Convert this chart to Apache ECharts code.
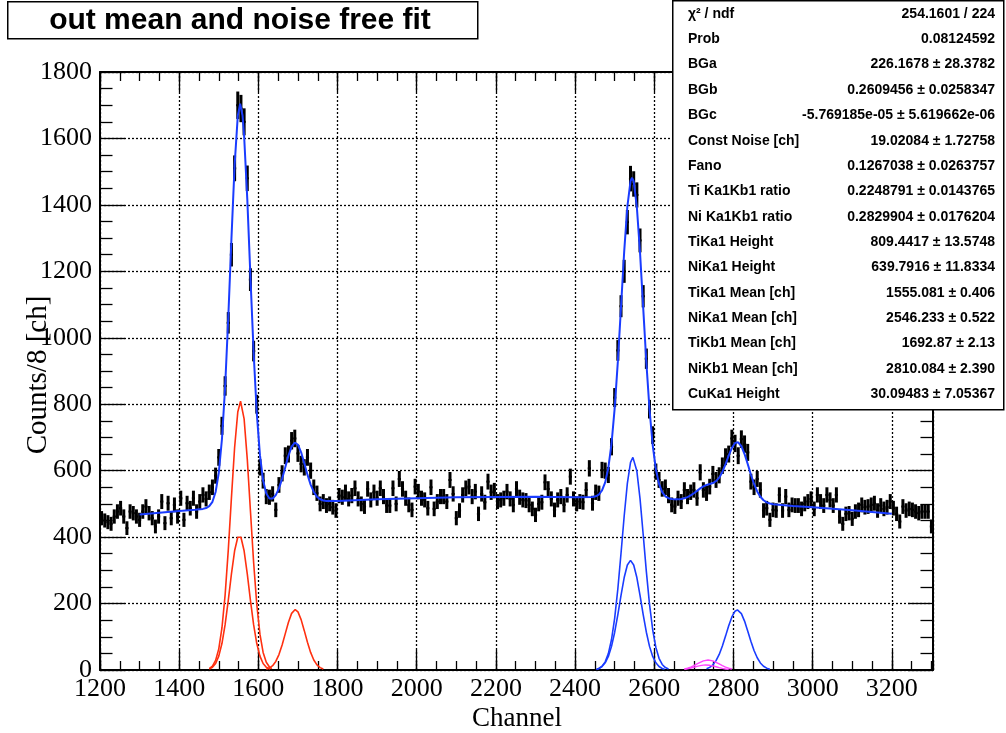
<!DOCTYPE html>
<html><head><meta charset="utf-8">
<script src="https://cdn.jsdelivr.net/npm/echarts@6/dist/echarts.min.js"></script>
<style>html,body{margin:0;padding:0;background:#fff}#c{width:1006px;height:733px}</style>
</head><body><div id="c"></div>
<script>
// ---- histogram (8-channel bins starting at 1200) ----
const binLow = 1200;
const binWidth = 8;
const counts = [
457,450,445,440,462,477,487,462,427,477,472,462,452,477,492,472,457,432,462,507,
442,502,457,497,462,517,452,502,487,517,477,507,527,515,535,550,585,640,735,855,
1045,1250,1510,1700,1690,1650,1480,1175,960,800,610,570,522,520,530,482,557,592,645,650,
690,697,652,620,610,640,600,550,532,500,507,495,500,490,480,525,520,535,515,525,
547,515,500,492,545,512,535,517,547,522,495,495,547,500,575,545,517,497,482,552,
537,517,512,487,550,485,507,522,522,507,572,530,457,480,527,547,552,522,537,470,
530,505,567,535,540,507,512,517,537,515,497,545,520,512,510,497,485,467,500,505,
565,545,515,482,512,522,497,527,582,515,500,507,505,542,607,502,535,532,602,600,
587,672,820,962,1095,1200,1348,1479,1463,1430,1293,1125,937,785,707,597,572,545,550,525,
497,492,517,507,542,522,535,542,517,595,542,532,552,590,572,586,615,642,650,697,
682,645,695,680,655,567,550,575,542,480,487,452,482,480,527,480,522,482,497,495,
495,485,500,507,515,485,527,507,495,527,512,495,527,462,440,470,472,455,477,482,
497,490,492,497,502,480,495,485,490,507,487,470,447,492,480,485,482,477,472,477,
477,477,432
];

// ---- total fit (blue) ----
const fitTotal = [[1300,467.9],[1350,473.3],[1400,478.4],[1440,482.3],[1460,484.9],[1468,487.4],[1476,493.1],[1484,506.3],[1492,535.7],[1500,593.3],[1508,694.5],[1516,851.1],[1524,1060.8],[1532,1298.5],[1540,1519.2],[1548,1667.9],[1554,1704.4],[1560,1668.9],[1564,1608],[1572,1418],[1580,1182.6],[1588,956.3],[1596,773],[1604,646.6],[1612,570.3],[1620,531.5],[1628,516.4],[1636,516.1],[1644,526.3],[1652,546.6],[1660,575.5],[1668,610.5],[1676,645.5],[1684,672.5],[1692,684.6],[1700,678],[1708,655.2],[1716,622.6],[1724,588],[1732,558.1],[1740,535.9],[1748,521.8],[1756,513.9],[1764,510.2],[1772,508.8],[1800,509],[1900,513.7],[2000,517.3],[2100,519.8],[2200,521],[2300,521.2],[2400,520.2],[2444,520.6],[2452,522.9],[2460,528.2],[2468,540.4],[2476,564.7],[2484,608.8],[2492,681.1],[2500,788],[2508,928.8],[2516,1093.5],[2524,1259.3],[2532,1395.1],[2540,1471.8],[2544,1481.5],[2548,1471.1],[2556,1393.3],[2564,1257],[2572,1090.7],[2580,925.4],[2588,784.1],[2596,676.9],[2604,604.3],[2612,560],[2620,535.2],[2628,522.8],[2636,517.1],[2644,514.5],[2652,513.6],[2660,513.6],[2668,514.8],[2676,516.8],[2684,520.3],[2692,525.4],[2700,531.9],[2708,539.2],[2716,546.6],[2724,552.5],[2732,556.9],[2740,559.7],[2748,562.8],[2756,568.3],[2764,578.9],[2772,596.3],[2780,619.5],[2788,645.2],[2796,668.3],[2804,683.2],[2812,685.3],[2820,673.5],[2828,650],[2836,619.9],[2844,588.4],[2852,560],[2860,537.5],[2868,521.4],[2876,510.9],[2884,504.6],[2892,501.1],[2900,498.8],[2950,493.9],[3000,489.8],[3100,480.7],[3200,470.5]];

// ---- Ti components (red) ----
const tiKa1 = [[1476,4.3],[1484,11.7],[1492,28.9],[1500,63.7],[1508,126.5],[1516,225.5],[1524,360.9],[1532,518.8],[1540,669.7],[1548,776.4],[1555,809],[1564,755.8],[1572,634.6],[1580,478.6],[1588,324.2],[1596,197.2],[1604,107.8],[1612,52.8],[1620,23.3],[1628,9.2],[1634,4.2]];
const tiKa2 = [[1476,3.2],[1484,8.3],[1492,19.7],[1500,41.8],[1508,79.7],[1516,136.4],[1524,209.7],[1532,289.4],[1540,358.8],[1548,399.6],[1552,405],[1556,399.6],[1564,358.8],[1572,289.4],[1580,209.7],[1588,136.4],[1596,79.7],[1604,41.8],[1612,19.7],[1620,8.3],[1630,2.6]];
const tiKb1 = [[1620,2.4],[1628,5.9],[1636,13.0],[1644,25.8],[1652,46.4],[1660,75.1],[1668,109.5],[1676,143.9],[1684,170.4],[1693,182],[1700,174.9],[1708,151.6],[1716,118.4],[1724,83.3],[1732,52.9],[1740,30.2],[1748,15.6],[1756,7.2],[1764,3.0]];

// ---- Ni components (blue) ----
const niKa1 = [[2454,1.6],[2460,4.6],[2468,11.1],[2476,24.5],[2484,49.5],[2492,91.8],[2500,156.4],[2508,244.6],[2516,351.4],[2524,463.6],[2532,561.7],[2540,624.8],[2546,640],[2556,598.8],[2564,515.8],[2572,408],[2580,296.3],[2588,197.7],[2596,121.1],[2604,68.1],[2612,35.2],[2620,16.7],[2628,7.3],[2636,2.9]];
const niKa2 = [[2454,1.6],[2460,4.6],[2468,10.5],[2476,21.6],[2484,40.9],[2492,71.1],[2500,113.7],[2508,166.8],[2516,224.9],[2524,278.3],[2532,316.2],[2540,330],[2548,316.2],[2556,278.3],[2564,224.9],[2572,166.8],[2580,113.7],[2588,71.1],[2596,40.9],[2604,21.6],[2612,10.5],[2620,4.6],[2626,2.4]];
const niKb1 = [[2732,3.7],[2740,7.9],[2748,15.6],[2756,28.2],[2764,46.9],[2772,72.1],[2780,102],[2788,132.9],[2796,159.7],[2804,176.9],[2810,181],[2820,169.8],[2828,147.2],[2836,117.6],[2844,86.6],[2852,58.8],[2860,36.8],[2868,21.2],[2876,11.3],[2884,5.5],[2892,2.5]];

// ---- Cu components (magenta) ----
const cuKa1 = [[2676,3.0],[2684,5.4],[2692,8.7],[2700,13.1],[2708,18.2],[2716,23.2],[2724,27.4],[2736,30],[2748,27.4],[2756,23.2],[2764,18.2],[2772,13.1],[2780,8.7],[2788,5.4],[2796,3.0]];
const cuKa2 = [[2676,2.3],[2684,3.9],[2692,6.0],[2700,8.4],[2708,11.0],[2716,13.2],[2724,14.7],[2730,15],[2740,14.1],[2748,12.2],[2756,9.7],[2764,7.2],[2772,4.9],[2780,3.0],[2788,1.8]];

// ---- texts ----
const titleText = 'out mean and noise free fit';
const xTitle = 'Channel';
const yTitle = 'Counts/8 [ch]';
const statLabels = ['\u03c7\u00b2 / ndf','Prob','BGa','BGb','BGc','Const Noise [ch]','Fano','Ti Ka1Kb1 ratio','Ni Ka1Kb1 ratio','TiKa1 Height','NiKa1 Height','TiKa1 Mean [ch]','NiKa1 Mean [ch]','TiKb1 Mean [ch]','NiKb1 Mean [ch]','CuKa1 Height'];
const statValues = ['254.1601 / 224','0.08124592','226.1678 \u00b1 28.3782','0.2609456 \u00b1 0.0258347','-5.769185e-05 \u00b1 5.619662e-06','19.02084 \u00b1 1.72758','0.1267038 \u00b1 0.0263757','0.2248791 \u00b1 0.0143765','0.2829904 \u00b1 0.0176204','809.4417 \u00b1 13.5748','639.7916 \u00b1 11.8334','1555.081 \u00b1 0.406','2546.233 \u00b1 0.522','1692.87 \u00b1 2.13','2810.084 \u00b1 2.390','30.09483 \u00b1 7.05367'];

// ---- chart ----
const X_MIN = 1200, X_MAX = 3304, Y_MIN = 0, Y_MAX = 1800;
const RED = '#ff3010', BLUE = '#1a3cff', MAG = '#ff44ff';
const serif = '"Liberation Serif","DejaVu Serif",serif';
const sans = '"Liberation Sans",Arial,Helvetica,sans-serif';

const histData = counts.map((v, i) => [binLow + binWidth * (i + 0.5), v, Math.sqrt(v)]);
const plain = v => String(v);

function axisX(pos, major, showLabel, withSplit) {
  return {
    type: 'value', position: pos, min: X_MIN, max: X_MAX, interval: major ? 200 : 50,
    axisLine: { show: major, onZero: false, lineStyle: { color: '#000', width: 2 } },
    axisTick: { show: true, inside: true, length: major ? 20 : 9, lineStyle: { color: '#000', width: 1.3 } },
    axisLabel: { show: showLabel, fontFamily: serif, fontSize: 26, color: '#000', margin: 6, showMaxLabel: false, formatter: plain },
    splitLine: { show: withSplit, lineStyle: { color: '#000', width: 1.3, type: [2, 2] } }
  };
}
function axisY(pos, showLabel, withSplit) {
  return {
    type: 'value', position: pos, min: Y_MIN, max: Y_MAX, interval: 200,
    axisLine: { show: true, onZero: false, lineStyle: { color: '#000', width: 2 } },
    axisTick: { show: true, inside: true, length: 25, lineStyle: { color: '#000', width: 1.3 } },
    minorTick: { show: true, splitNumber: 4, length: 12.5, lineStyle: { color: '#000', width: 1.3 } },
    axisLabel: { show: showLabel, fontFamily: serif, fontSize: 26, color: '#000', margin: 8, formatter: plain },
    splitLine: { show: withSplit, lineStyle: { color: '#000', width: 1.3, type: [2, 2] } }
  };
}

function lineSeries(data, color, width) {
  return { type: 'line', data: data, xAxisIndex: 0, yAxisIndex: 0, showSymbol: false, symbol: 'none',
    smooth: false, lineStyle: { color: color, width: width }, z: 5, silent: true, animation: false, clip: true };
}

const graphics = [];
graphics.push({ type: 'rect', left: 7, top: 1, shape: { width: 470, height: 37 }, style: { fill: '#fff', stroke: '#000', lineWidth: 1.5 }, z: 100 });
graphics.push({ type: 'text', x: 240, y: 21, style: { text: titleText, font: 'bold 30px ' + sans, fill: '#000', align: 'center', verticalAlign: 'middle' }, z: 101 });
graphics.push({ type: 'rect', left: 672, top: 0, shape: { width: 331, height: 409 }, style: { fill: '#fff', stroke: '#000', lineWidth: 1.5 }, z: 100 });
statLabels.forEach((t, i) => {
  const cy = 13.9 + 25.36 * i;
  graphics.push({ type: 'text', x: 688, y: cy, style: { text: t, font: 'bold 14px ' + sans, fill: '#000', align: 'left', verticalAlign: 'middle' }, z: 101 });
  graphics.push({ type: 'text', x: 995, y: cy, style: { text: statValues[i], font: 'bold 14px ' + sans, fill: '#000', align: 'right', verticalAlign: 'middle' }, z: 101 });
});
graphics.push({ type: 'text', x: 517, y: 719, style: { text: xTitle, font: '27px ' + serif, fill: '#000', align: 'center', verticalAlign: 'middle' }, z: 101 });
graphics.push({ type: 'text', x: 38, y: 375, rotation: Math.PI / 2, style: { text: yTitle, font: '29px ' + serif, fill: '#000', align: 'center', verticalAlign: 'middle' }, z: 101 });

const chart = echarts.init(document.getElementById('c'), null, { renderer: 'canvas' });
chart.setOption({
  animation: false,
  backgroundColor: '#fff',
  grid: { left: 100, right: 73, top: 72, bottom: 63, containLabel: false },
  xAxis: [axisX('bottom', true, true, true), axisX('bottom', false, false, false), axisX('top', true, false, false), axisX('top', false, false, false)],
  yAxis: [axisY('left', true, true), axisY('right', false, false)],
  series: [
    {
      type: 'custom', data: histData, xAxisIndex: 0, yAxisIndex: 0, z: 3, silent: true, clip: true,
      renderItem: function (params, api) {
        const x = api.value(0), y = api.value(1), e = api.value(2);
        const pT = api.coord([x, y + e]), pB = api.coord([x, y - e]);
        const pL = api.coord([x - binWidth / 2, y]), pR = api.coord([x + binWidth / 2, y]);
        return { type: 'group', children: [
          { type: 'line', shape: { x1: pT[0], y1: pT[1], x2: pB[0], y2: pB[1] }, style: { stroke: '#000', lineWidth: 3 } },
          { type: 'line', shape: { x1: pL[0], y1: pL[1], x2: pR[0], y2: pR[1] }, style: { stroke: '#000', lineWidth: 2 } }
        ] };
      }
    },
    lineSeries(tiKa1, RED, 1.6), lineSeries(tiKa2, RED, 1.6), lineSeries(tiKb1, RED, 1.6),
    lineSeries(niKa1, BLUE, 1.6), lineSeries(niKa2, BLUE, 1.6), lineSeries(niKb1, BLUE, 1.6),
    lineSeries(cuKa1, MAG, 1.4), lineSeries(cuKa2, MAG, 1.4),
    lineSeries(fitTotal, BLUE, 2)
  ],
  graphic: graphics
});
</script></body></html>
